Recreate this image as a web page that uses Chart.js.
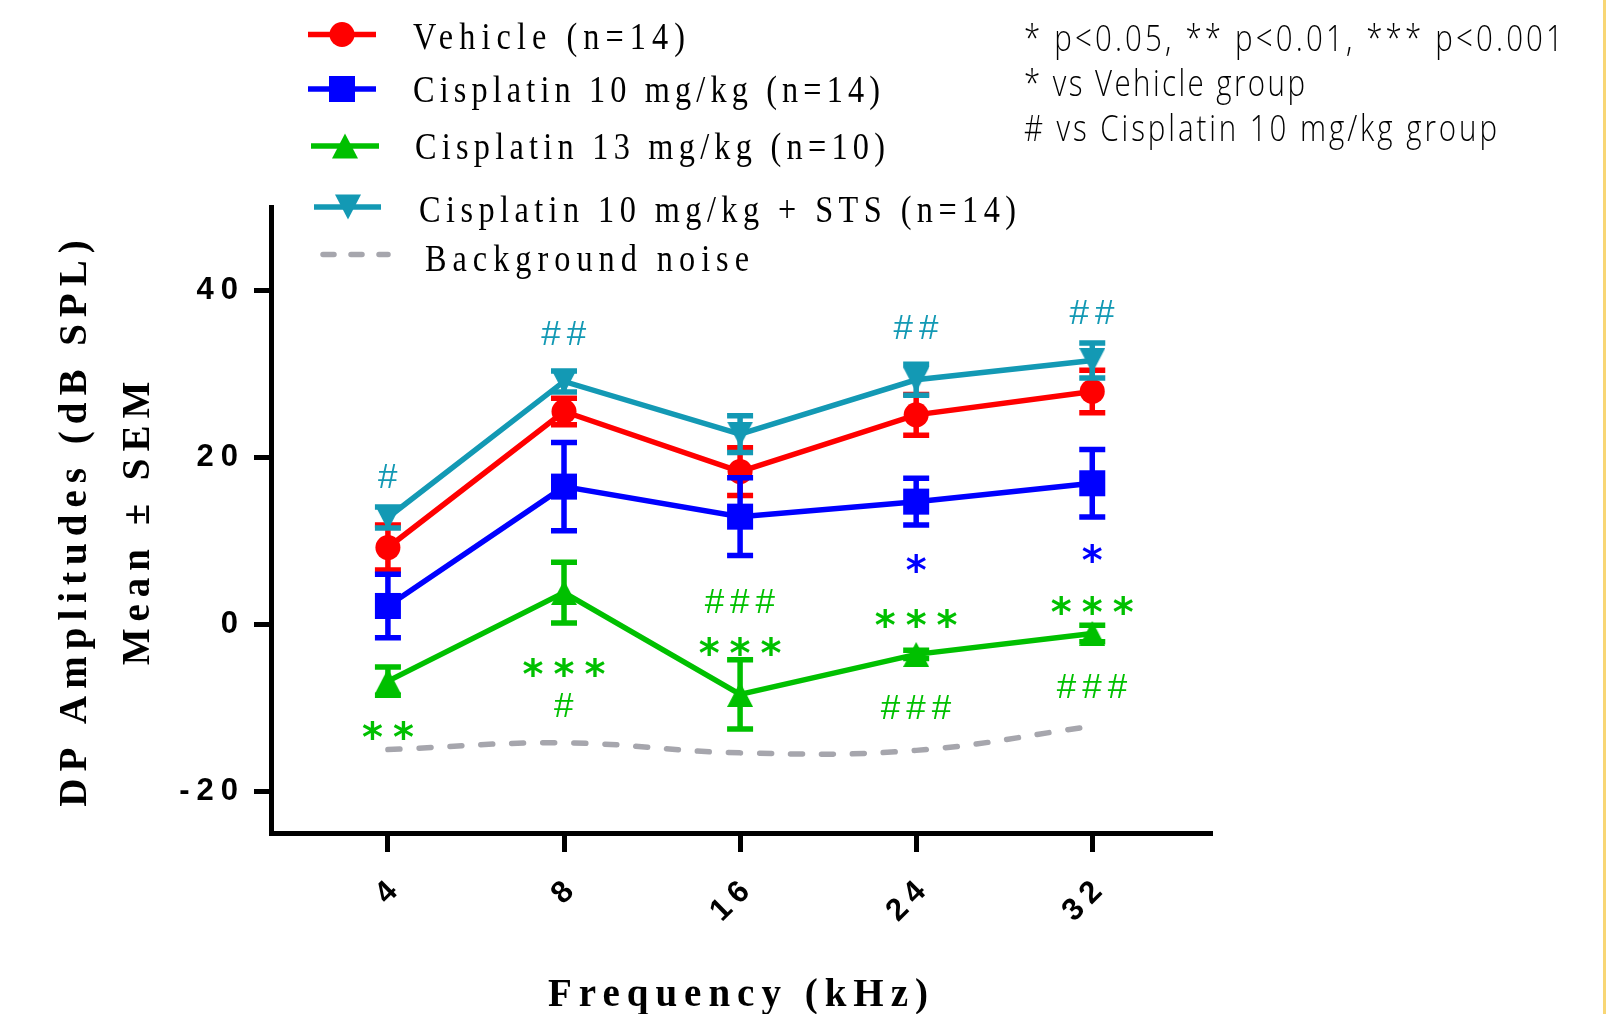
<!DOCTYPE html>
<html>
<head>
<meta charset="utf-8">
<script src="https://cdn.jsdelivr.net/npm/chart.js@4.4.1/dist/chart.umd.min.js"></script>
<style>
html,body{margin:0;padding:0;background:#fff;}
#wrap{position:relative;width:1622px;height:1014px;overflow:hidden;background:#fff;}
#c{position:absolute;left:0;top:0;}
#overlay{position:absolute;left:0;top:0;pointer-events:none;}
#edge{position:absolute;left:1603px;top:0;width:3px;height:1014px;background:#f8d675;}
</style>
</head>
<body>
<div id="wrap">
<canvas id="c" width="1622" height="1014"></canvas>
<svg id="overlay" width="1622" height="1014" xmlns="http://www.w3.org/2000/svg"></svg>
<div id="edge"></div>
</div>
<script>
// ---------- data ----------
const freqLabels = ['4', '8', '16', '24', '32'];
const yTickValues = [-20, 0, 20, 40];

const vehicleMean = [9.2, 25.5, 18.3, 25.1, 27.9];
const vehicleSem  = [2.7, 1.6, 2.85, 2.45, 2.55];
const cis10Mean   = [2.2, 16.5, 12.9, 14.7, 16.9];
const cis10Sem    = [3.8, 5.3, 4.65, 2.8, 4.05];
const cis13Mean   = [-6.8, 3.8, -8.4, -3.6, -1.1];
const cis13Sem    = [1.7, 3.65, 4.15, 0.5, 1.0];
const stsMean     = [12.8, 29.1, 22.8, 29.3, 31.6];
const stsSem      = [1.25, 1.25, 2.2, 1.85, 2.1];
const noiseLevel  = [-15.0, -14.2, -15.4, -15.1, -12.2];

const seriesNames = ['Vehicle (n=14)', 'Cisplatin 10 mg/kg (n=14)', 'Cisplatin 13 mg/kg (n=10)',
                     'Cisplatin 10 mg/kg + STS (n=14)', 'Background noise'];
const noteLines = ['* p<0.05, ** p<0.01, *** p<0.001', '* vs Vehicle group', '# vs Cisplatin 10 mg/kg group'];
const yTitleLines = ['DP Amplitudes (dB SPL)', 'Mean \u00B1 SEM'];
const xTitle = 'Frequency (kHz)';

// significance marks: frequency index, level (dB), text, series index
const sigIndex  = [0, 0, 1, 1, 1, 2, 2, 3, 3, 3, 3, 4, 4, 4, 4];
const sigLevel  = [17.8, -12.7, 34.9, -5.1, -9.7, 2.8, -2.6, 35.6, 7.4, 0.7, -9.9, 37.4, 8.6, 2.3, -7.4];
const sigText   = ['#', '**', '##', '***', '#', '###', '***', '##', '*', '***', '###', '##', '*', '***', '###'];
const sigSeries = [3, 2, 3, 2, 2, 2, 2, 3, 1, 2, 2, 3, 1, 2, 2];

// ---------- styles ----------
const colors = ['#ff0000', '#0000ff', '#00c000', '#1399b4', '#a6a6ad'];
const LW = 5.5;

function triCanvas(color, down) {
  const c = document.createElement('canvas');
  c.width = 26; c.height = 25;
  const g = c.getContext('2d');
  g.fillStyle = color;
  g.beginPath();
  if (!down) { g.moveTo(13, 0); g.lineTo(26, 25); g.lineTo(0, 25); }
  else { g.moveTo(0, 0); g.lineTo(26, 0); g.lineTo(13, 25); }
  g.closePath(); g.fill();
  return c;
}
const mk = arr => arr.map((v, i) => ({x: i, y: v}));

const errorBarPlugin = {
  id: 'errbars',
  beforeDatasetDraw(chart, args) {
    const ds = chart.data.datasets[args.index];
    if (!ds.sem) return;
    const ctx = chart.ctx, ys = chart.scales.y;
    ctx.save();
    ctx.strokeStyle = ds.borderColor; ctx.lineWidth = LW; ctx.lineCap = 'butt';
    args.meta.data.forEach((pt, i) => {
      const v = ds.data[i].y, s = ds.sem[i];
      const yt = ys.getPixelForValue(v + s), yb = ys.getPixelForValue(v - s);
      ctx.beginPath();
      ctx.moveTo(pt.x, yt); ctx.lineTo(pt.x, yb);
      ctx.moveTo(pt.x - 13, yt); ctx.lineTo(pt.x + 13, yt);
      ctx.moveTo(pt.x - 13, yb); ctx.lineTo(pt.x + 13, yb);
      ctx.stroke();
    });
    ctx.restore();
  }
};

const sigPlugin = {
  id: 'sig',
  afterDatasetsDraw(chart) {
    const ctx = chart.ctx, xs = chart.scales.x, ys = chart.scales.y;
    ctx.save();
    sigText.forEach((t, k) => {
      const star = t[0] === '*';
      ctx.font = star ? 'bold 40px "DejaVu Sans"' : '35px "Liberation Sans"';
      ctx.letterSpacing = star ? '10px' : '6px';
      ctx.fillStyle = colors[sigSeries[k]];
      ctx.textAlign = 'left'; ctx.textBaseline = 'alphabetic';
      const m = ctx.measureText(t);
      const inkL = -m.actualBoundingBoxLeft, inkR = m.actualBoundingBoxRight;
      const cx = xs.getPixelForValue(sigIndex[k]), cy = ys.getPixelForValue(sigLevel[k]);
      ctx.fillText(t, cx - (inkL + inkR) / 2, cy + (m.actualBoundingBoxAscent - m.actualBoundingBoxDescent) / 2);
    });
    ctx.restore();
  }
};

const spacingPlugin = {
  id: 'spacing',
  beforeDraw(chart) { chart.ctx.letterSpacing = '7px'; },
  afterDraw(chart) { chart.ctx.letterSpacing = '0px'; }
};

const tickFont = {family: '"Liberation Sans", Arial, sans-serif', weight: 'bold', size: 31};
const titleFamily = '"Liberation Serif", "Times New Roman", serif';

new Chart(document.getElementById('c').getContext('2d'), {
  type: 'line',
  data: {
    datasets: [
      {label: seriesNames[4], data: mk(noiseLevel), borderColor: colors[4], borderWidth: 5.5,
       borderDash: [12, 19], borderCapStyle: 'round', pointRadius: 0, tension: 0.4, fill: false, order: 5},
      {label: seriesNames[0], data: mk(vehicleMean), sem: vehicleSem, borderColor: colors[0], backgroundColor: colors[0],
       borderWidth: LW, pointStyle: 'circle', pointRadius: 12.5, pointBorderWidth: 0, order: 4},
      {label: seriesNames[1], data: mk(cis10Mean), sem: cis10Sem, borderColor: colors[1], backgroundColor: colors[1],
       borderWidth: LW, pointStyle: 'rect', pointRadius: 18.4, pointBorderWidth: 0, order: 3},
      {label: seriesNames[2], data: mk(cis13Mean), sem: cis13Sem, borderColor: colors[2], backgroundColor: colors[2],
       borderWidth: LW, pointStyle: triCanvas(colors[2], false), pointRadius: 13, pointBorderWidth: 0, order: 2},
      {label: seriesNames[3], data: mk(stsMean), sem: stsSem, borderColor: colors[3], backgroundColor: colors[3],
       borderWidth: LW, pointStyle: triCanvas(colors[3], true), pointRadius: 13, pointBorderWidth: 0, order: 1}
    ]
  },
  options: {
    responsive: false, animation: false, events: [],
    layout: {padding: {left: 0, top: 207, right: 410, bottom: 0}},
    plugins: {legend: {display: false}, tooltip: {enabled: false}, title: {display: false}},
    scales: {
      x: {
        type: 'linear', min: -0.664, max: 4.68,
        afterBuildTicks: s => { s.ticks = freqLabels.map((_, i) => ({value: i})); },
        afterFit: s => { s.height = 181; },
        ticks: {callback: v => freqLabels[v], minRotation: 45, maxRotation: 45, autoSkip: false,
                padding: 17, labelOffset: 10, color: '#000', font: tickFont},
        grid: {display: true, drawOnChartArea: false, drawTicks: true, tickLength: 19, tickWidth: 5, tickColor: '#000'},
        border: {display: true, width: 5, color: '#000'},
        title: {display: true, text: xTitle, color: '#000', padding: 0,
                font: {family: titleFamily, weight: 'bold', size: 39, lineHeight: '36px'}}
      },
      y: {
        type: 'linear', min: -25, max: 50,
        afterBuildTicks: s => { s.ticks = yTickValues.map(v => ({value: v})); },
        afterFit: s => { s.width = 271; },
        ticks: {callback: v => String(v), padding: 9, color: '#000', font: tickFont},
        grid: {display: true, drawOnChartArea: false, drawTicks: true, tickLength: 17, tickWidth: 5, tickColor: '#000'},
        border: {display: true, width: 5, color: '#000'},
        title: {display: true, text: yTitleLines, color: '#000', padding: {top: 45, bottom: 0},
                font: {family: titleFamily, weight: 'bold', size: 39, lineHeight: '62.5px'}}
      }
    }
  },
  plugins: [spacingPlugin, errorBarPlugin, sigPlugin]
});

// ---------- legend & notes (SVG text) ----------
const svgNS = 'http://www.w3.org/2000/svg';
const svg = document.getElementById('overlay');
function el(tag, attrs) {
  const e = document.createElementNS(svgNS, tag);
  for (const k in attrs) e.setAttribute(k, attrs[k]);
  svg.appendChild(e);
  return e;
}
const legendLayout = [
  {ly: 34.5, lx1: 308, lx2: 376, mx: 342, tx: 413, ty: 48.5, tw: 272},
  {ly: 89,   lx1: 308, lx2: 376, mx: 342, tx: 413, ty: 102,  tw: 467},
  {ly: 146,  lx1: 311, lx2: 379, mx: 345, tx: 415, ty: 158.5, tw: 470},
  {ly: 207,  lx1: 314, lx2: 381, mx: 348, tx: 419, ty: 222,  tw: 597},
  {ly: 254.5, lx1: 323, lx2: 388, mx: 0,  tx: 425, ty: 271,  tw: 324}
];
const legendScale = 0.85;
legendLayout.forEach((L, i) => {
  const col = colors[i];
  if (i < 4) {
    el('line', {x1: L.lx1, y1: L.ly, x2: L.lx2, y2: L.ly, stroke: col, 'stroke-width': 5.5});
    if (i === 0) el('circle', {cx: L.mx, cy: L.ly, r: 12.5, fill: col});
    if (i === 1) el('rect', {x: L.mx - 13, y: L.ly - 13, width: 26, height: 26, fill: col});
    if (i === 2) el('polygon', {points: `${L.mx},${L.ly - 12.5} ${L.mx + 13},${L.ly + 12.5} ${L.mx - 13},${L.ly + 12.5}`, fill: col});
    if (i === 3) el('polygon', {points: `${L.mx - 13},${L.ly - 12.5} ${L.mx + 13},${L.ly - 12.5} ${L.mx},${L.ly + 12.5}`, fill: col});
  } else {
    el('line', {x1: L.lx1, y1: L.ly, x2: L.lx2, y2: L.ly, stroke: col, 'stroke-width': 5.5,
                'stroke-dasharray': '11 17', 'stroke-linecap': 'round'});
  }
  const t = el('text', {x: 0, y: 0, transform: `translate(${L.tx},${L.ty}) scale(${legendScale},1)`,
    'font-family': 'Liberation Serif, Times New Roman, serif', 'font-size': 38, fill: '#000',
    textLength: (L.tw / legendScale).toFixed(1), lengthAdjust: 'spacing'});
  t.textContent = seriesNames[i];
});
const noteY = [51, 96, 141], noteW = [539, 281, 473];
const noteScale = 0.82;
noteLines.forEach((s, i) => {
  const t = el('text', {x: 0, y: 0, transform: `translate(1024,${noteY[i]}) scale(${noteScale},1)`,
    'font-family': 'Open Sans, Liberation Sans, sans-serif',
    'font-weight': 300, 'font-size': 36, fill: '#000',
    textLength: (noteW[i] / noteScale).toFixed(1), lengthAdjust: 'spacing'});
  t.textContent = s;
});
</script>
</body>
</html>
